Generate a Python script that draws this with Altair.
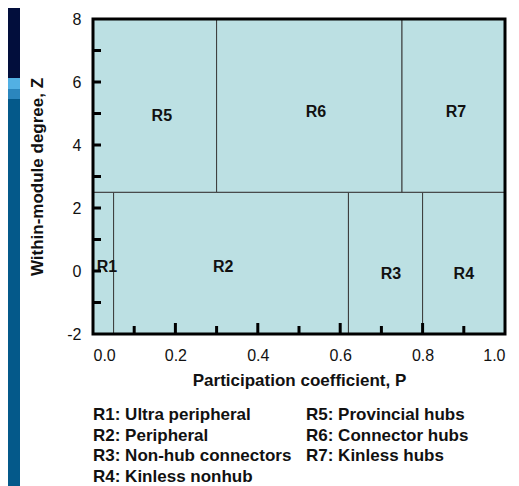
import altair as alt
import pandas as pd

# Regions of the P-Z plane
region_names = ["R1", "R2", "R3", "R4", "R5", "R6", "R7"]
p_lo = [0.00, 0.05, 0.62, 0.80, 0.00, 0.30, 0.75]
p_hi = [0.05, 0.62, 0.80, 1.00, 0.30, 0.75, 1.00]
z_lo = [-2, -2, -2, -2, 2.5, 2.5, 2.5]
z_hi = [2.5, 2.5, 2.5, 2.5, 8, 8, 8]
label_p = [0.034, 0.316, 0.723, 0.90, 0.167, 0.541, 0.881]
label_z = [0.13, 0.13, -0.10, -0.10, 4.92, 5.05, 5.05]

# axis ticks
y_tick_vals = [-1, 0, 1, 2, 3, 4, 5, 6, 7]
x_major_ticks = [0.2, 0.4, 0.6, 0.8]
x_minor_ticks = [0.1, 0.3, 0.5, 0.7, 0.9]
y_label_vals = [-2, 0, 2, 4, 6, 8]
x_label_vals = [0.0, 0.2, 0.4, 0.6, 0.8, 1.0]

# key text below the chart
key_left = ["R1: Ultra peripheral", "R2: Peripheral", "R3: Non-hub connectors", "R4: Kinless nonhub"]
key_right = ["R5: Provincial hubs", "R6: Connector hubs", "R7: Kinless hubs"]

W, H = 412, 315
FONT = "Liberation Sans"

regions = pd.DataFrame({"name": region_names, "p0": p_lo, "p1": p_hi, "z0": z_lo, "z1": z_hi,
                        "lp": label_p, "lz": label_z})
frame = pd.DataFrame({"p0": [0.0], "p1": [1.0], "z0": [-2], "z1": [8]})

xs = alt.Scale(domain=[0, 1], nice=False, zero=False)
ys = alt.Scale(domain=[-2, 8], nice=False, zero=False)

# left decorative slide strip (background, not data)
strip_colors = ["#020e3c", "#52b0e4", "#2b86bd", "#04598a"]
strip_tops = [-11, 59, 70, 80]
strip_bottoms = [59, 70, 80, 475]
strip_layers = []
for c, t, b in zip(strip_colors, strip_tops, strip_bottoms):
    strip_layers.append(
        alt.Chart(frame).mark_rect(color=c).encode(
            x=alt.value(-85), x2=alt.value(-73), y=alt.value(t), y2=alt.value(b)))

rects = alt.Chart(regions).mark_rect(fill="#bce0e3", stroke="#3a3a3a", strokeWidth=1).encode(
    x=alt.X("p0:Q", scale=xs,
            axis=alt.Axis(values=x_label_vals, format=".1f", title="Participation coefficient, P",
                          domain=False, ticks=False, grid=False, labelPadding=13,
                          labelFontSize=16, labelFont=FONT, labelColor="#111",
                          titleFontSize=17, titleFont=FONT, titleFontWeight="bold",
                          titlePadding=9, titleColor="#111")),
    x2="p1:Q",
    y=alt.Y("z0:Q", scale=ys,
            axis=alt.Axis(values=y_label_vals, labelExpr="toString(datum.value)",
                          title="Within-module degree, Z",
                          domain=False, ticks=False, grid=False, labelPadding=12,
                          labelFontSize=16, labelFont=FONT, labelColor="#111",
                          titleFontSize=17, titleFont=FONT, titleFontWeight="bold",
                          titlePadding=20, titleColor="#111")),
    y2="z1:Q",
)

labels = alt.Chart(regions).mark_text(font=FONT, fontSize=16, fontWeight="bold", color="#111").encode(
    x=alt.X("lp:Q", scale=xs), y=alt.Y("lz:Q", scale=ys), text="name:N")

yt = alt.Chart(pd.DataFrame({"v": y_tick_vals})).mark_rule(color="black", strokeWidth=3).encode(
    y=alt.Y("v:Q", scale=ys), x=alt.value(0), x2=alt.value(8))
xt_major = alt.Chart(pd.DataFrame({"v": x_major_ticks})).mark_rule(color="black", strokeWidth=3).encode(
    x=alt.X("v:Q", scale=xs), y=alt.value(H), y2=alt.value(H - 11))
xt_minor = alt.Chart(pd.DataFrame({"v": x_minor_ticks})).mark_rule(color="black", strokeWidth=3).encode(
    x=alt.X("v:Q", scale=xs), y=alt.value(H), y2=alt.value(H - 8))

border = alt.Chart(frame).mark_rect(fill=None, stroke="black", strokeWidth=3).encode(
    x=alt.X("p0:Q", scale=xs), x2="p1:Q", y=alt.Y("z0:Q", scale=ys), y2="z1:Q")

key_df = pd.DataFrame({
    "text": key_left + key_right,
    "col": [0] * len(key_left) + [1] * len(key_right),
    "row": list(range(len(key_left))) + list(range(len(key_right))),
})
key_layers = []
for col, xpx in [(0, 0), (1, 213)]:
    for row in range(4):
        sub = key_df[(key_df.col == col) & (key_df.row == row)]
        if len(sub) == 0:
            continue
        key_layers.append(
            alt.Chart(sub).mark_text(font=FONT, fontSize=17, fontWeight="bold", color="#111",
                                     align="left", baseline="middle").encode(
                x=alt.value(xpx), y=alt.value(396 + row * 20.7), text="text:N"))

chart = alt.layer(*strip_layers, rects, labels, yt, xt_major, xt_minor, border, *key_layers).properties(
    width=W, height=H,
    autosize=alt.AutoSizeParams(type="none"),
    padding={"left": 85, "top": 11, "right": 6, "bottom": 156},
    background="white",
).configure_view(stroke=None)

chart.save("out.html", embed_options={"renderer": "svg", "actions": False})
